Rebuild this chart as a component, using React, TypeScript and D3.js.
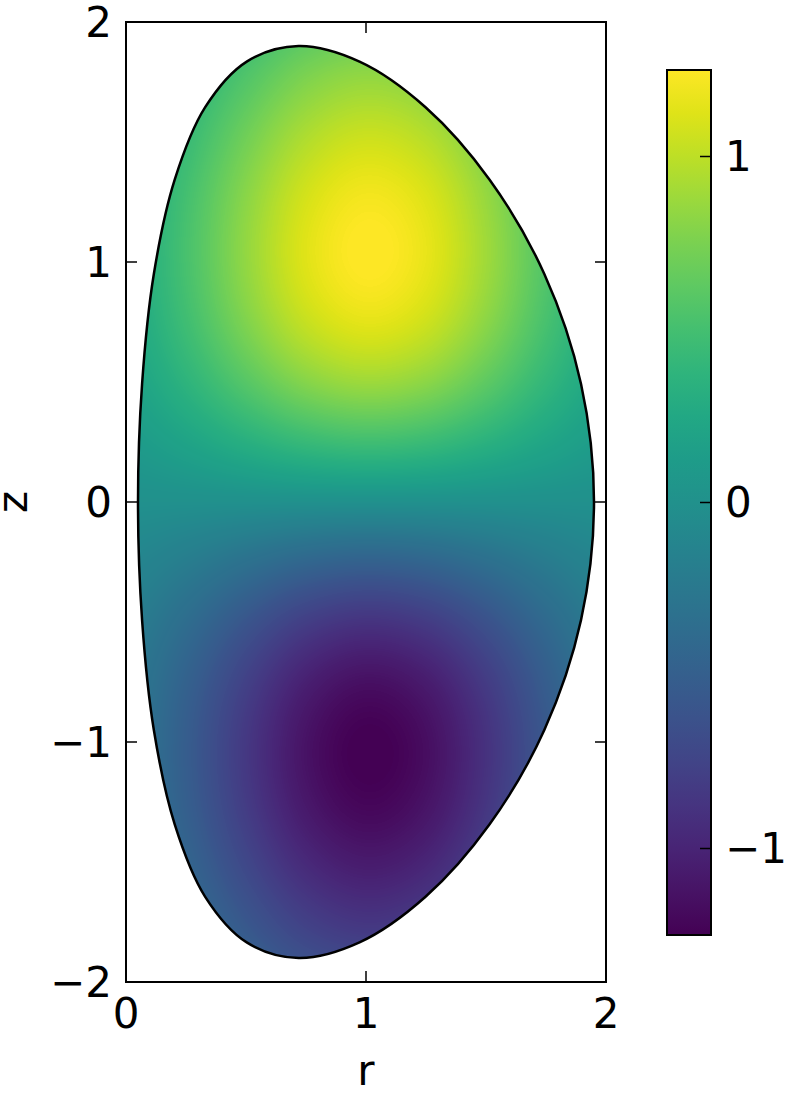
import React, { useMemo } from 'react'
import * as d3 from 'd3'

const R_NODES = [0, 0.25, 0.5, 0.75, 1.0, 1.25, 1.5, 1.75, 2.0]
const Z_NODES = [2.0, 1.75, 1.5, 1.25, 1.0, 0.75, 0.5, 0.25, 0, -0.25, -0.5, -0.75, -1.0, -1.25, -1.5, -1.75, -2.0]

// field values, one row per z node (top to bottom), one column per r node
const PSI = [
  [0.137, 0.267, 0.432, 0.579, 0.644, 0.596, 0.458, 0.292, 0.155],
  [0.184, 0.357, 0.577, 0.774, 0.862, 0.797, 0.613, 0.391, 0.207],
  [0.228, 0.443, 0.716, 0.960, 1.069, 0.989, 0.760, 0.485, 0.257],
  [0.259, 0.504, 0.814, 1.092, 1.216, 1.125, 0.864, 0.551, 0.292],
  [0.268, 0.520, 0.841, 1.128, 1.256, 1.161, 0.892, 0.569, 0.302],
  [0.245, 0.476, 0.769, 1.031, 1.148, 1.062, 0.816, 0.520, 0.276],
  [0.188, 0.366, 0.591, 0.792, 0.882, 0.816, 0.627, 0.400, 0.212],
  [0.102, 0.199, 0.322, 0.431, 0.481, 0.444, 0.342, 0.218, 0.115],
  [0, 0, 0, 0, 0, 0, 0, 0, 0],
  [-0.102, -0.199, -0.322, -0.431, -0.481, -0.444, -0.342, -0.218, -0.115],
  [-0.188, -0.366, -0.591, -0.792, -0.882, -0.816, -0.627, -0.400, -0.212],
  [-0.245, -0.476, -0.769, -1.031, -1.148, -1.062, -0.816, -0.520, -0.276],
  [-0.268, -0.520, -0.841, -1.128, -1.256, -1.161, -0.892, -0.569, -0.302],
  [-0.259, -0.504, -0.814, -1.092, -1.216, -1.125, -0.864, -0.551, -0.292],
  [-0.228, -0.443, -0.716, -0.960, -1.069, -0.989, -0.760, -0.485, -0.257],
  [-0.184, -0.357, -0.577, -0.774, -0.862, -0.797, -0.613, -0.391, -0.207],
  [-0.137, -0.267, -0.432, -0.579, -0.644, -0.596, -0.458, -0.292, -0.155],
]

// plasma boundary, sampled counter-clockwise from the outboard midplane
const BOUNDARY_R = [1.95, 1.896, 1.743, 1.515, 1.248, 0.973, 0.719, 0.503, 0.33, 0.203, 0.116, 0.067, 0.05,
  0.067, 0.116, 0.203, 0.33, 0.503, 0.719, 0.973, 1.248, 1.515, 1.743, 1.896]
const BOUNDARY_Z = [0, 0.492, 0.95, 1.343, 1.645, 1.835, 1.9, 1.835, 1.645, 1.343, 0.95, 0.492, 0,
  -0.492, -0.95, -1.343, -1.645, -1.835, -1.9, -1.835, -1.645, -1.343, -0.95, -0.492]

const X_TICKS = [0, 1, 2]
const Y_TICKS = [-2, -1, 0, 1, 2]
const CBAR_TICKS = [-1, 0, 1]
const V_RANGE = [-1.25, 1.25]

const FONT = 'DejaVu Sans, sans-serif'
const fmt = (v: number) => (v < 0 ? '\u2212' + Math.abs(v) : String(v))

// catmull-rom weights
function cr(p0: number, p1: number, p2: number, p3: number, t: number) {
  return 0.5 * (2 * p1 + (-p0 + p2) * t + (2 * p0 - 5 * p1 + 4 * p2 - p3) * t * t + (-p0 + 3 * p1 - 3 * p2 + p3) * t * t * t)
}

export default function App() {
  const left = 126, right = 606, top = 22, bottom = 982
  const x = d3.scaleLinear().domain([0, 2]).range([left, right])
  const y = d3.scaleLinear().domain([-2, 2]).range([bottom, top])
  const col = d3.scaleLinear().domain([R_NODES[0], R_NODES[R_NODES.length - 1]]).range([0, R_NODES.length - 1])
  const row = d3.scaleLinear().domain([Z_NODES[0], Z_NODES[Z_NODES.length - 1]]).range([0, Z_NODES.length - 1])
  const color = d3.scaleSequential(d3.interpolateViridis).domain(V_RANGE).clamp(true)

  const cbX = 667, cbW = 44, cbTop = 70, cbBottom = 935
  const cb = d3.scaleLinear().domain(V_RANGE).range([cbBottom, cbTop])

  const img = useMemo(() => {
    const w = right - left, h = bottom - top
    const canvas = document.createElement('canvas')
    canvas.width = w
    canvas.height = h
    const ctx = canvas.getContext('2d')
    if (!ctx) return ''
    const data = ctx.createImageData(w, h)
    const nr = R_NODES.length, nz = Z_NODES.length
    const at = (i: number, j: number) =>
      PSI[Math.max(0, Math.min(nz - 1, i))][Math.max(0, Math.min(nr - 1, j))]
    for (let py = 0; py < h; py++) {
      const fi = row(y.invert(top + py + 0.5))
      const i = Math.floor(fi), ti = fi - i
      for (let px = 0; px < w; px++) {
        const fj = col(x.invert(left + px + 0.5))
        const j = Math.floor(fj), tj = fj - j
        const rows = [-1, 0, 1, 2].map(di =>
          cr(at(i + di, j - 1), at(i + di, j), at(i + di, j + 1), at(i + di, j + 2), tj))
        const v = cr(rows[0], rows[1], rows[2], rows[3], ti)
        const c = d3.rgb(color(v))
        const k = (py * w + px) * 4
        data.data[k] = c.r
        data.data[k + 1] = c.g
        data.data[k + 2] = c.b
        data.data[k + 3] = 255
      }
    }
    ctx.putImageData(data, 0, 0)
    return canvas.toDataURL()
  }, [])

  const boundary = d3.line<number>()
    .x(i => x(BOUNDARY_R[i]))
    .y(i => y(BOUNDARY_Z[i]))
    .curve(d3.curveCatmullRomClosed.alpha(0.5))(d3.range(BOUNDARY_R.length)) || ''

  const stops = d3.range(0, 1.0001, 0.05)

  return (
    <svg width={789} height={1103} style={{ position: 'absolute', left: 0, top: 0, background: '#fff' }}
      fontFamily={FONT}>
      <defs>
        <clipPath id="plasma">
          <path d={boundary} />
        </clipPath>
        <linearGradient id="cbar" x1="0" y1="1" x2="0" y2="0">
          {stops.map((t, i) => (
            <stop key={i} offset={`${t * 100}%`} stopColor={color(V_RANGE[0] + (V_RANGE[1] - V_RANGE[0]) * t)} />
          ))}
        </linearGradient>
      </defs>

      {/* field */}
      <image href={img} x={left} y={top} width={right - left} height={bottom - top} clipPath="url(#plasma)"
        preserveAspectRatio="none" />
      <path d={boundary} fill="none" stroke="#000" strokeWidth={2.5} />

      {/* frame + ticks */}
      <rect x={left} y={top} width={right - left} height={bottom - top} fill="none" stroke="#000" strokeWidth={2} />
      {X_TICKS.map(t => (
        <g key={'x' + t}>
          <line x1={x(t)} x2={x(t)} y1={bottom} y2={bottom - 11} stroke="#000" strokeWidth={1.5} />
          <line x1={x(t)} x2={x(t)} y1={top} y2={top + 11} stroke="#000" strokeWidth={1.5} />
          <text x={x(t)} y={1028} textAnchor="middle" fontSize={42}>{fmt(t)}</text>
        </g>
      ))}
      {Y_TICKS.map(t => (
        <g key={'y' + t}>
          <line x1={left} x2={left + 11} y1={y(t)} y2={y(t)} stroke="#000" strokeWidth={1.5} />
          <line x1={right} x2={right - 11} y1={y(t)} y2={y(t)} stroke="#000" strokeWidth={1.5} />
          <text x={112} y={y(t)} textAnchor="end" dominantBaseline="central" fontSize={42}>{fmt(t)}</text>
        </g>
      ))}
      <text x={x(1)} y={1085} textAnchor="middle" fontSize={42}>r</text>
      <text transform={`translate(27,${y(0)}) rotate(-90)`} textAnchor="middle" fontSize={42}>z</text>

      {/* colorbar */}
      <rect x={cbX} y={cbTop} width={cbW} height={cbBottom - cbTop} fill="url(#cbar)" stroke="#000" strokeWidth={2} />
      {CBAR_TICKS.map(t => (
        <g key={'c' + t}>
          <line x1={cbX + cbW} x2={cbX + cbW - 11} y1={cb(t)} y2={cb(t)} stroke="#000" strokeWidth={1.5} />
          <text x={725} y={cb(t)} dominantBaseline="central" fontSize={42}>{fmt(t)}</text>
        </g>
      ))}
    </svg>
  )
}
